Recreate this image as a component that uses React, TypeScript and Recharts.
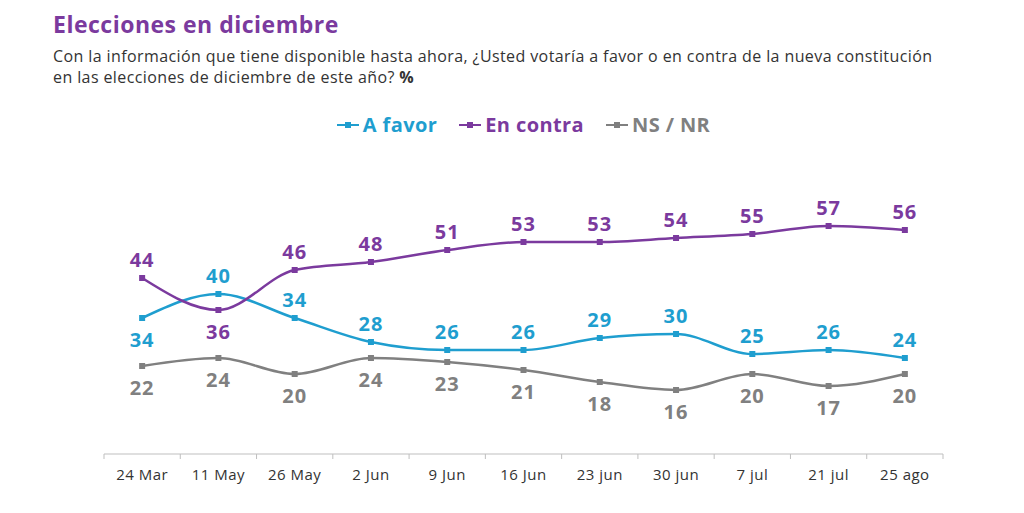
import React from 'react';
import { LineChart, Line, XAxis, YAxis, Legend, LabelList } from 'recharts';

const fechas = ['24 Mar', '11 May', '26 May', '2 Jun', '9 Jun', '16 Jun', '23 jun', '30 jun', '7 jul', '21 jul', '25 ago'];
const aFavor = [34, 40, 34, 28, 26, 26, 29, 30, 25, 26, 24];
const enContra = [44, 36, 46, 48, 51, 53, 53, 54, 55, 57, 56];
const nsNr = [22, 24, 20, 24, 23, 21, 18, 16, 20, 17, 20];

const data = fechas.map((fecha, i) => ({
  fecha,
  favor: aFavor[i],
  contra: enContra[i],
  ns: nsNr[i],
}));

const BLUE = '#1F9ECF';
const PURPLE = '#7B3A9E';
const GRAY = '#808080';
const FONT = "'Open Sans', sans-serif";

// which points get their label under the line
const below: Record<string, number[]> = {
  favor: [0],
  contra: [1],
  ns: fechas.map((_, i) => i),
};

const squareDot = (color: string) => (props: any) => {
  const { cx, cy, index } = props;
  if (cx == null || cy == null) return null;
  return <rect key={index} x={cx - 3} y={cy - 3} width={6} height={6} fill={color} />;
};

const valueLabel = (key: string, color: string) => (props: any) => {
  const { x, y, value, index } = props;
  const under = below[key].includes(index);
  return (
    <text
      x={x}
      y={under ? y + 21 : y - 19}
      fill={color}
      textAnchor="middle"
      dominantBaseline="central"
      style={{ fontFamily: FONT, fontWeight: 700, fontSize: 20, letterSpacing: 1 }}
    >
      {value}
    </text>
  );
};

const DateTick = (props: any) => {
  const { x, y, payload, index, visibleTicksCount } = props;
  const half = payload.offset || 0;
  return (
    <g>
      <line x1={x - half} x2={x - half} y1={y - 8} y2={y - 3} stroke="#bfbfbf" />
      {index === visibleTicksCount - 1 && (
        <line x1={x + half} x2={x + half} y1={y - 8} y2={y - 3} stroke="#bfbfbf" />
      )}
      <text x={x} y={y + 18} textAnchor="middle" fill="#333" style={{ fontFamily: FONT, fontSize: 15, letterSpacing: 0.5 }}>
        {payload.value}
      </text>
    </g>
  );
};

const series = [
  { key: 'favor', name: 'A favor', color: BLUE },
  { key: 'contra', name: 'En contra', color: PURPLE },
  { key: 'ns', name: 'NS / NR', color: GRAY },
];

const LegendContent = () => (
  <div style={{ display: 'flex', justifyContent: 'center', gap: 22, fontFamily: FONT, fontWeight: 700, fontSize: 20, letterSpacing: 0.4 }}>
    {series.map((s) => (
      <div key={s.key} style={{ display: 'flex', alignItems: 'center', color: s.color }}>
        <svg width={22} height={10} style={{ marginRight: 4 }}>
          <line x1={0} x2={22} y1={5} y2={5} stroke={s.color} strokeWidth={2} />
          <rect x={8} y={2} width={6} height={6} fill={s.color} />
        </svg>
        {s.name}
      </div>
    ))}
  </div>
);

export default function App() {
  return (
    <div style={{ position: 'absolute', left: 0, top: 0, width: 1024, height: 513, background: '#fff', overflow: 'hidden' }}>
      <div style={{ position: 'absolute', left: 53, top: 8, fontFamily: FONT, fontWeight: 700, fontSize: 23, letterSpacing: 0.5, color: PURPLE }}>
        Elecciones en diciembre
      </div>
      <div style={{ position: 'absolute', left: 53, top: 46, width: 960, fontFamily: FONT, fontSize: 16, letterSpacing: 0.4, lineHeight: '21px', color: '#333' }}>
        Con la información que tiene disponible hasta ahora, ¿Usted votaría a favor o en contra de la nueva constitución
        <br />
        en las elecciones de diciembre de este año? <b>%</b>
      </div>
      <LineChart width={1024} height={513} data={data} margin={{ top: 194, right: 81, bottom: 19, left: 104 }} style={{ position: 'absolute', left: 0, top: 0 }}>
        <XAxis
          dataKey="fecha"
          scale="band"
          axisLine={{ stroke: '#bfbfbf' }}
          tickLine={false}
          height={40}
          tick={<DateTick />}
          interval={0}
        />
        <YAxis hide type="number" domain={[0, 65]} ticks={[0, 65]} allowDataOverflow />
        <Legend
          layout="horizontal"
          verticalAlign="middle"
          content={<LegendContent />}
          wrapperStyle={{ top: 111, left: 104, width: 839 }}
        />
        {series.map((s) => (
          <Line
            key={s.key}
            dataKey={s.key}
            name={s.name}
            type="monotone"
            stroke={s.color}
            strokeWidth={2.5}
            dot={squareDot(s.color)}
            activeDot={false}
            isAnimationActive={false}
          >
            <LabelList dataKey={s.key} content={valueLabel(s.key, s.color)} />
          </Line>
        ))}
      </LineChart>
    </div>
  );
}
